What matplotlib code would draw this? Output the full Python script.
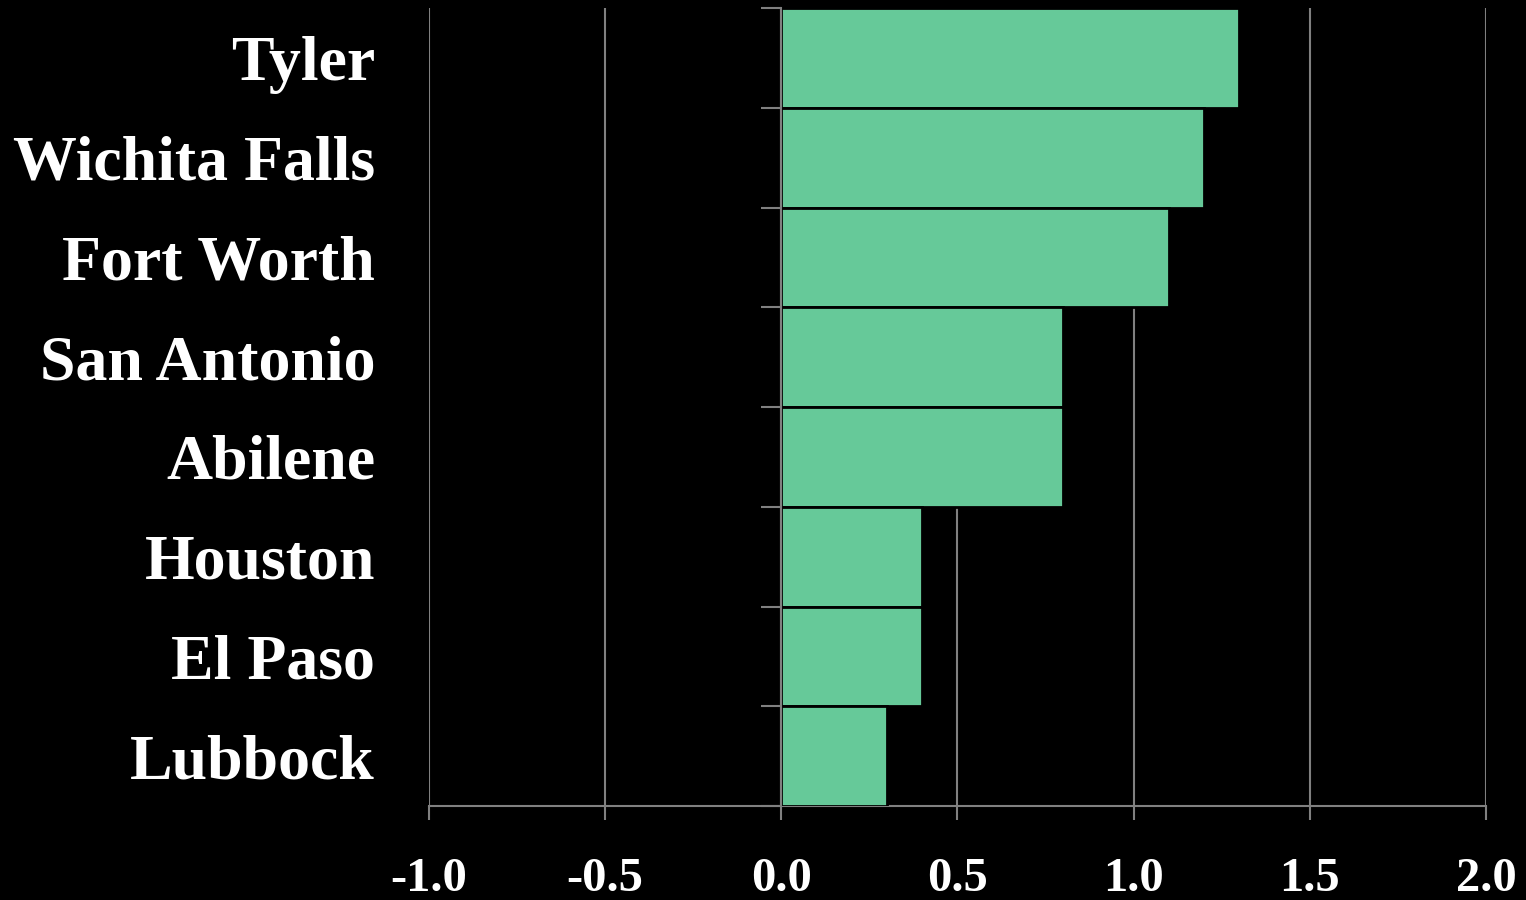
import numpy as np
import matplotlib.pyplot as plt

cities = ['Tyler', 'Wichita Falls', 'Fort Worth', 'San Antonio', 'Abilene',
          'Houston', 'El Paso', 'Lubbock']
values = [1.3, 1.2, 1.1, 0.8, 0.8, 0.4, 0.4, 0.3]
xticks = [-1.0, -0.5, 0.0, 0.5, 1.0, 1.5, 2.0]

plt.rcParams['font.family'] = ['Liberation Serif', 'DejaVu Serif']
plt.rcParams['font.weight'] = 'bold'

grey = '#808080'
fig = plt.figure(figsize=(15.26, 9), dpi=100, facecolor='black')
ax = fig.add_axes([0.2811, 0.1044, 0.6927, 0.8867], facecolor='black')

pos = np.arange(len(cities))[::-1]
ax.barh(pos, values, height=1.0, color='#66c999', edgecolor='black',
        linewidth=2, zorder=3)

ax.set_xlim(-1.0, 2.0)
ax.set_ylim(-0.5, len(cities) - 0.5)
ax.set_xticks(xticks)
ax.set_xticklabels(['%.1f' % v for v in xticks])
ax.grid(axis='x', color=grey, linewidth=1.5, zorder=0)

# category labels at centres, boundary ticks on the zero line
ax.set_yticks(pos)
ax.set_yticklabels(cities)
ax.set_yticks(np.arange(len(cities) + 1) - 0.5, minor=True)
ax.tick_params(axis='y', which='major', length=0, pad=292.5, labelsize=46,
               labelcolor='white')
ax.tick_params(axis='y', which='minor', length=14.4, width=1.5, color=grey)
ax.tick_params(axis='x', length=10, width=1.5, color=grey, pad=27,
               labelsize=35, labelcolor='white')

for s in ['top', 'right']:
    ax.spines[s].set_visible(False)
ax.spines['left'].set_position(('data', 0))
ax.spines['left'].set_color(grey)
ax.spines['left'].set_linewidth(1.5)
ax.spines['left'].set_zorder(4)
ax.spines['bottom'].set_color(grey)
ax.spines['bottom'].set_linewidth(1.5)

fig.savefig('out.png', dpi=100, facecolor='black')
